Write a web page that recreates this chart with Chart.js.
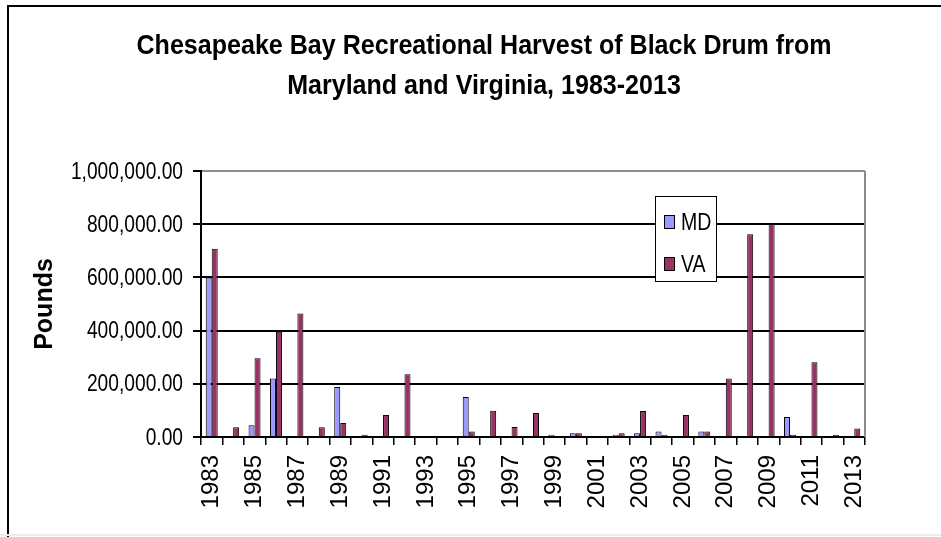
<!DOCTYPE html>
<html>
<head>
<meta charset="utf-8">
<script src="https://cdn.jsdelivr.net/npm/chart.js@4.4.1/dist/chart.umd.min.js"></script>
<style>
  html, body { margin: 0; padding: 0; background: #fff; }
  #wrap { position: relative; width: 941px; height: 537px; overflow: hidden; }
  #frame { position: absolute; left: 7px; top: 5px; width: 960px; height: 560px;
           border-left: 2px solid #000; border-top: 2px solid #000; }
  #foot { position: absolute; left: 0; top: 534px; width: 941px; height: 2px; background: #ececec; }
  #title { position: absolute; left: 0; top: 25px; width: 968px; text-align: center;
           font-family: 'Liberation Sans', Arial, sans-serif; font-weight: bold; font-size: 28px;
           line-height: 40px; color: #000; transform: scaleX(0.895); transform-origin: 484px 0; }
  #legend { position: absolute; left: 655px; top: 196px; width: 60px; height: 84px;
            border: 1.5px solid #000; background: #fff;
            font-family: 'Liberation Sans', Arial, sans-serif; font-size: 23px; color: #000; }
  .item { position: absolute; left: 0; height: 26px; line-height: 26px; }
  .swatch { position: absolute; left: 8px; top: 6px; width: 9px; height: 12px; border: 1px solid #000; }
  .name { position: absolute; left: 25px; top: 0; transform: scaleX(0.85); transform-origin: 0 0; }
  canvas { position: absolute; left: 0; top: 0; }
</style>
</head>
<body>
<div id="wrap">
  <canvas id="harvest" width="941" height="537"></canvas>
  <div id="frame"></div>
  <div id="foot"></div>
  <div id="title"></div>
  <div id="legend"></div>
</div>
<script>
// harvest in pounds, one value per year
const years = [1983, 1984, 1985, 1986, 1987, 1988, 1989, 1990, 1991, 1992, 1993, 1994, 1995, 1996, 1997, 1998,
               1999, 2000, 2001, 2002, 2003, 2004, 2005, 2006, 2007, 2008, 2009, 2010, 2011, 2012, 2013];
const md = [600000, 0, 44000, 220000, 0, 0, 188000, 0, 0, 0, 0, 0, 150000, 0, 0, 0,
            8000, 14000, 0, 8000, 14000, 21000, 0, 21000, 0, 0, 0, 75000, 0, 0, 0];
const va = [708000, 37000, 296000, 396000, 464000, 37000, 53000, 8000, 83000, 236000, 0, 0, 21000, 99000, 38000, 90000,
            4000, 14000, 0, 14000, 98000, 8000, 83000, 21000, 220000, 762000, 801000, 8000, 281000, 8000, 32000];
const seriesNames = ['MD', 'VA'];
const seriesColors = ['#9999ff', '#993366'];
const titleLines = ['Chesapeake Bay Recreational Harvest of Black Drum from', 'Maryland and Virginia, 1983-2013'];
const yTicks = [0, 200000, 400000, 600000, 800000, 1000000];

const sans = "'Liberation Sans', Arial, sans-serif";
const fmt = v => v.toLocaleString('en-US', { minimumFractionDigits: 2, maximumFractionDigits: 2 });

// gray right edge of the plot area, plus narrow y tick labels
const plotExtras = {
  id: 'plotExtras',
  afterDraw(chart) {
    const a = chart.chartArea, c = chart.ctx, y = chart.scales.y;
    c.save();
    c.strokeStyle = '#8c8c8c';
    c.lineWidth = 2;
    c.beginPath();
    c.moveTo(a.right, a.top);
    c.lineTo(a.right, a.bottom);
    c.stroke();

    c.fillStyle = '#000';
    c.font = '24px ' + sans;
    c.textAlign = 'right';
    c.textBaseline = 'middle';
    yTicks.forEach(v => {
      c.save();
      c.translate(a.left - 18, y.getPixelForValue(v) + 1);
      c.scale(0.8, 1);
      c.fillText(fmt(v), 0, 0);
      c.restore();
    });
    c.restore();
  }
};

new Chart(document.getElementById('harvest'), {
  type: 'bar',
  data: {
    labels: years,
    datasets: [md, va].map((d, i) => ({
      label: seriesNames[i],
      data: d,
      backgroundColor: seriesColors[i],
      borderColor: '#000',
      borderWidth: 1,
      borderSkipped: 'start',
      categoryPercentage: 0.56,
      barPercentage: 1.0
    }))
  },
  options: {
    responsive: false,
    animation: false,
    layout: { padding: { top: 171, left: 20, right: 76, bottom: 0 } },
    plugins: {
      legend: { display: false },
      tooltip: { enabled: false },
      title: { display: false }
    },
    scales: {
      x: {
        afterFit: s => { s.height = 100; },
        grid: { drawOnChartArea: false, offset: true, tickLength: 8, color: '#000', lineWidth: 1.5 },
        border: { color: '#000', width: 2 },
        ticks: {
          autoSkip: false,
          minRotation: 90,
          maxRotation: 90,
          padding: 10,
          color: '#000',
          font: { family: sans, size: 24 },
          callback: (v, i) => (i % 2 === 0 ? String(years[i]) : '')
        }
      },
      y: {
        min: 0,
        max: 1000000,
        afterFit: s => { s.width = 181; },
        afterBuildTicks: s => { s.ticks = yTicks.map(v => ({ value: v })); },
        grid: {
          color: c => (c.tick && c.tick.value === 1000000 ? '#8c8c8c' : '#000'),
          tickColor: '#000',
          lineWidth: 2,
          tickLength: 8
        },
        border: { color: '#000', width: 2 },
        title: {
          display: true,
          text: 'Pounds',
          color: '#000',
          font: { family: sans, size: 25, weight: 'bold' },
          padding: { top: 10, bottom: 0 }
        },
        ticks: { display: false }
      }
    }
  },
  plugins: [plotExtras]
});

document.getElementById('title').innerHTML = titleLines.map(t => '<div>' + t + '</div>').join('');

// legend box, built from the series names
const legend = document.getElementById('legend');
seriesNames.forEach((name, i) => {
  const item = document.createElement('div');
  item.className = 'item';
  item.style.top = (12 + i * 42) + 'px';
  item.innerHTML = '<span class="swatch" style="background:' + seriesColors[i] + '"></span><span class="name">' + name + '</span>';
  legend.appendChild(item);
});
</script>
</body>
</html>
